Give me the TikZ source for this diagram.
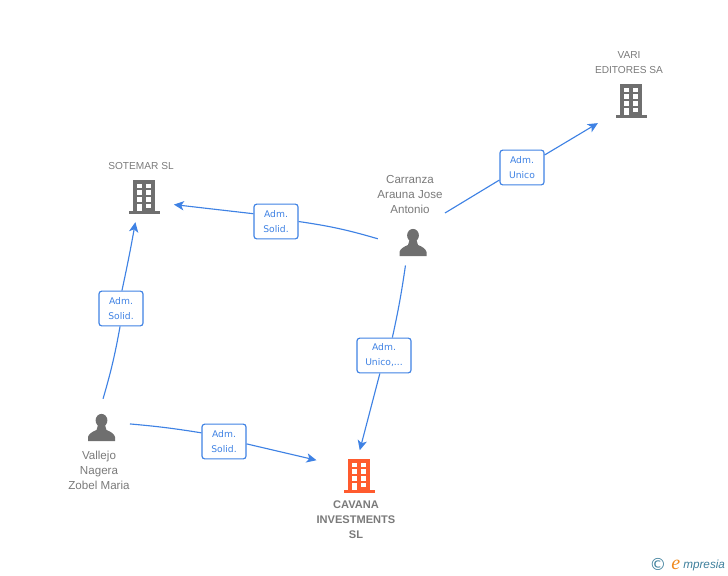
\documentclass[tikz,border=0pt]{standalone}
\usepackage{fontspec}
\setmainfont{Liberation Sans}
\newfontfamily\boxfont{DejaVu Sans}
\newfontfamily\logofont{Liberation Serif}
\usetikzlibrary{arrows.meta}
\definecolor{linkblue}{HTML}{3F82E4}
\definecolor{iconGray}{HTML}{6F6F6F}
\definecolor{textGray}{HTML}{7A7A7A}
\definecolor{iconOrange}{HTML}{FF5B2E}
\definecolor{logoBlue}{HTML}{3E7F9C}
\definecolor{logoOrange}{HTML}{F08A1E}
\tikzset{
	pics/tower/.style={code={
		\fill[#1] (-11,-17) rectangle (11,14);
		\fill[#1] (-15.5,14) rectangle (15.5,17);
		\foreach \wy in {-13.3,-6.7,0}{
			\fill[white] (-7,\wy) rectangle (-2,\wy+4.7);
			\fill[white] (2.3,\wy) rectangle (7.3,\wy+4.7);
		}
		\fill[white] (-7,6.7) rectangle (-2,14);
		\fill[white] (2.3,6.7) rectangle (7.3,11.4);
	}},
	pics/person/.style={code={
		\fill[#1] (0,-7.6) ellipse (5.9 and 6.5);
		\fill[#1] (-13.5,13) -- (-13.5,9) .. controls (-13,6) and (-9,3.5) .. (-5,2) -- (-3.5,-3)
			-- (3.5,-3) -- (5,2) .. controls (9,3.5) and (13,6) .. (13.5,9) -- (13.5,13) -- cycle;
	}}
}
\begin{document}
\begin{tikzpicture}%
		[x=0.75pt,y=-0.75pt,
		>={Stealth[length=7.5pt,width=7pt,inset=2pt]},
		every edge/.style={draw=linkblue,line width=0.85pt}
		]
		\tikzstyle{hub}=[circle, inner sep=0pt, minimum size=#1*1.5pt]
		\tikzstyle{lbl}=[draw=linkblue, line width=0.85pt, rounded corners=2pt, fill=white, text=linkblue, inner sep=0pt, minimum width=33pt, minimum height=26pt, align=center, font=\boxfont\fontsize{6.9}{11.2}\selectfont]
		\tikzstyle{ent}=[text=textGray, align=center, inner sep=0pt, font=\fontsize{8.7}{11.25}\selectfont]
		\tikzstyle{firm}=[text=textGray, align=center, inner sep=0pt, font=\fontsize{7.6}{11.25}\selectfont]
		\tikzstyle{main}=[text=textGray, align=center, inner sep=0pt, font=\bfseries\fontsize{8.3}{11.25}\selectfont]

		\useasboundingbox (0,0) rectangle (728,575);

		% connector ends
		\node[hub=36] (Carranza) at (413,230) {};
		\node[hub=38] (Vari) at (631,104) {};
		\node[hub=33] (Sotemar) at (144,190) {};
		\node[hub=29] (Vallejo) at (101,428) {};
		\node[hub=37.5] (Cavana) at (345,485) {};

		% icons
		\pic at (631,101) {tower=iconGray};
		\pic at (144,197) {tower=iconGray};
		\pic at (359,476) {tower=iconOrange};
		\pic at (413,243) {person=iconGray};
		\pic at (101.5,428) {person=iconGray};

		% texts
		\node[firm] (VariText) at (629,62.5) {VARI\\EDITORES SA};
		\node[firm] (SotemarText) at (141,166) {SOTEMAR SL};
		\node[ent] (CarranzaText) at (410,195) {Carranza\\Arauna Jose\\Antonio};
		\node[ent] (VallejoText) at (99,470) {Vallejo\\Nagera\\Zobel Maria};
		\node[main] (CavanaText) at (356,520) {CAVANA\\INVESTMENTS\\SL};

		% relations
		\node[lbl] (AdmSotemar) at (276,221.5) {Adm.\\Solid.};
		\node[lbl] (AdmVari) at (522,167.5) {Adm.\\Unico};
		\node[lbl, minimum width=40.5pt] (AdmCavana) at (384,355.5) {Adm.\\Unico,...};
		\node[lbl] (AdmVallejo) at (121,308.5) {Adm.\\Solid.};
		\node[lbl] (AdmMain) at (224,441.5) {Adm.\\Solid.};

		\path
		%   FROM  BEND  TO
		(Carranza.194) edge[bend right=4] (AdmSotemar.east)
		(AdmSotemar.161) edge[->] (Sotemar.-26)
		(Carranza.28) edge (AdmVari.209.6)
		(AdmVari.29.6) edge[->] (Vari.210)
		(Carranza.258) edge[bend left=2] (AdmCavana.65)
		(AdmCavana.257) edge[->] (Cavana.67)
		(Vallejo.86) edge[bend right=3] (AdmVallejo.267)
		(AdmVallejo.87) edge[->, bend right=1] (Sotemar.255)
		(Vallejo.8) edge[bend left=2] (AdmMain.159)
		(AdmMain.-6.5) edge[->] (Cavana.139.4)
		;

		% logo
		\node[text=logoBlue, inner sep=0pt, font=\boxfont\fontsize{12.5}{14}\selectfont] (LogoMark) at (658,564) {©};
		\node[anchor=base west, text=logoOrange, inner sep=0pt, font=\logofont\itshape\fontsize{15}{15}\selectfont] (LogoE) at (671,569) {e};
		\node[anchor=base west, text=logoBlue, inner sep=0pt, font=\itshape\fontsize{8.8}{11}\selectfont] (LogoText) at (683,568) {mpresia};
\end{tikzpicture}
\end{document}
